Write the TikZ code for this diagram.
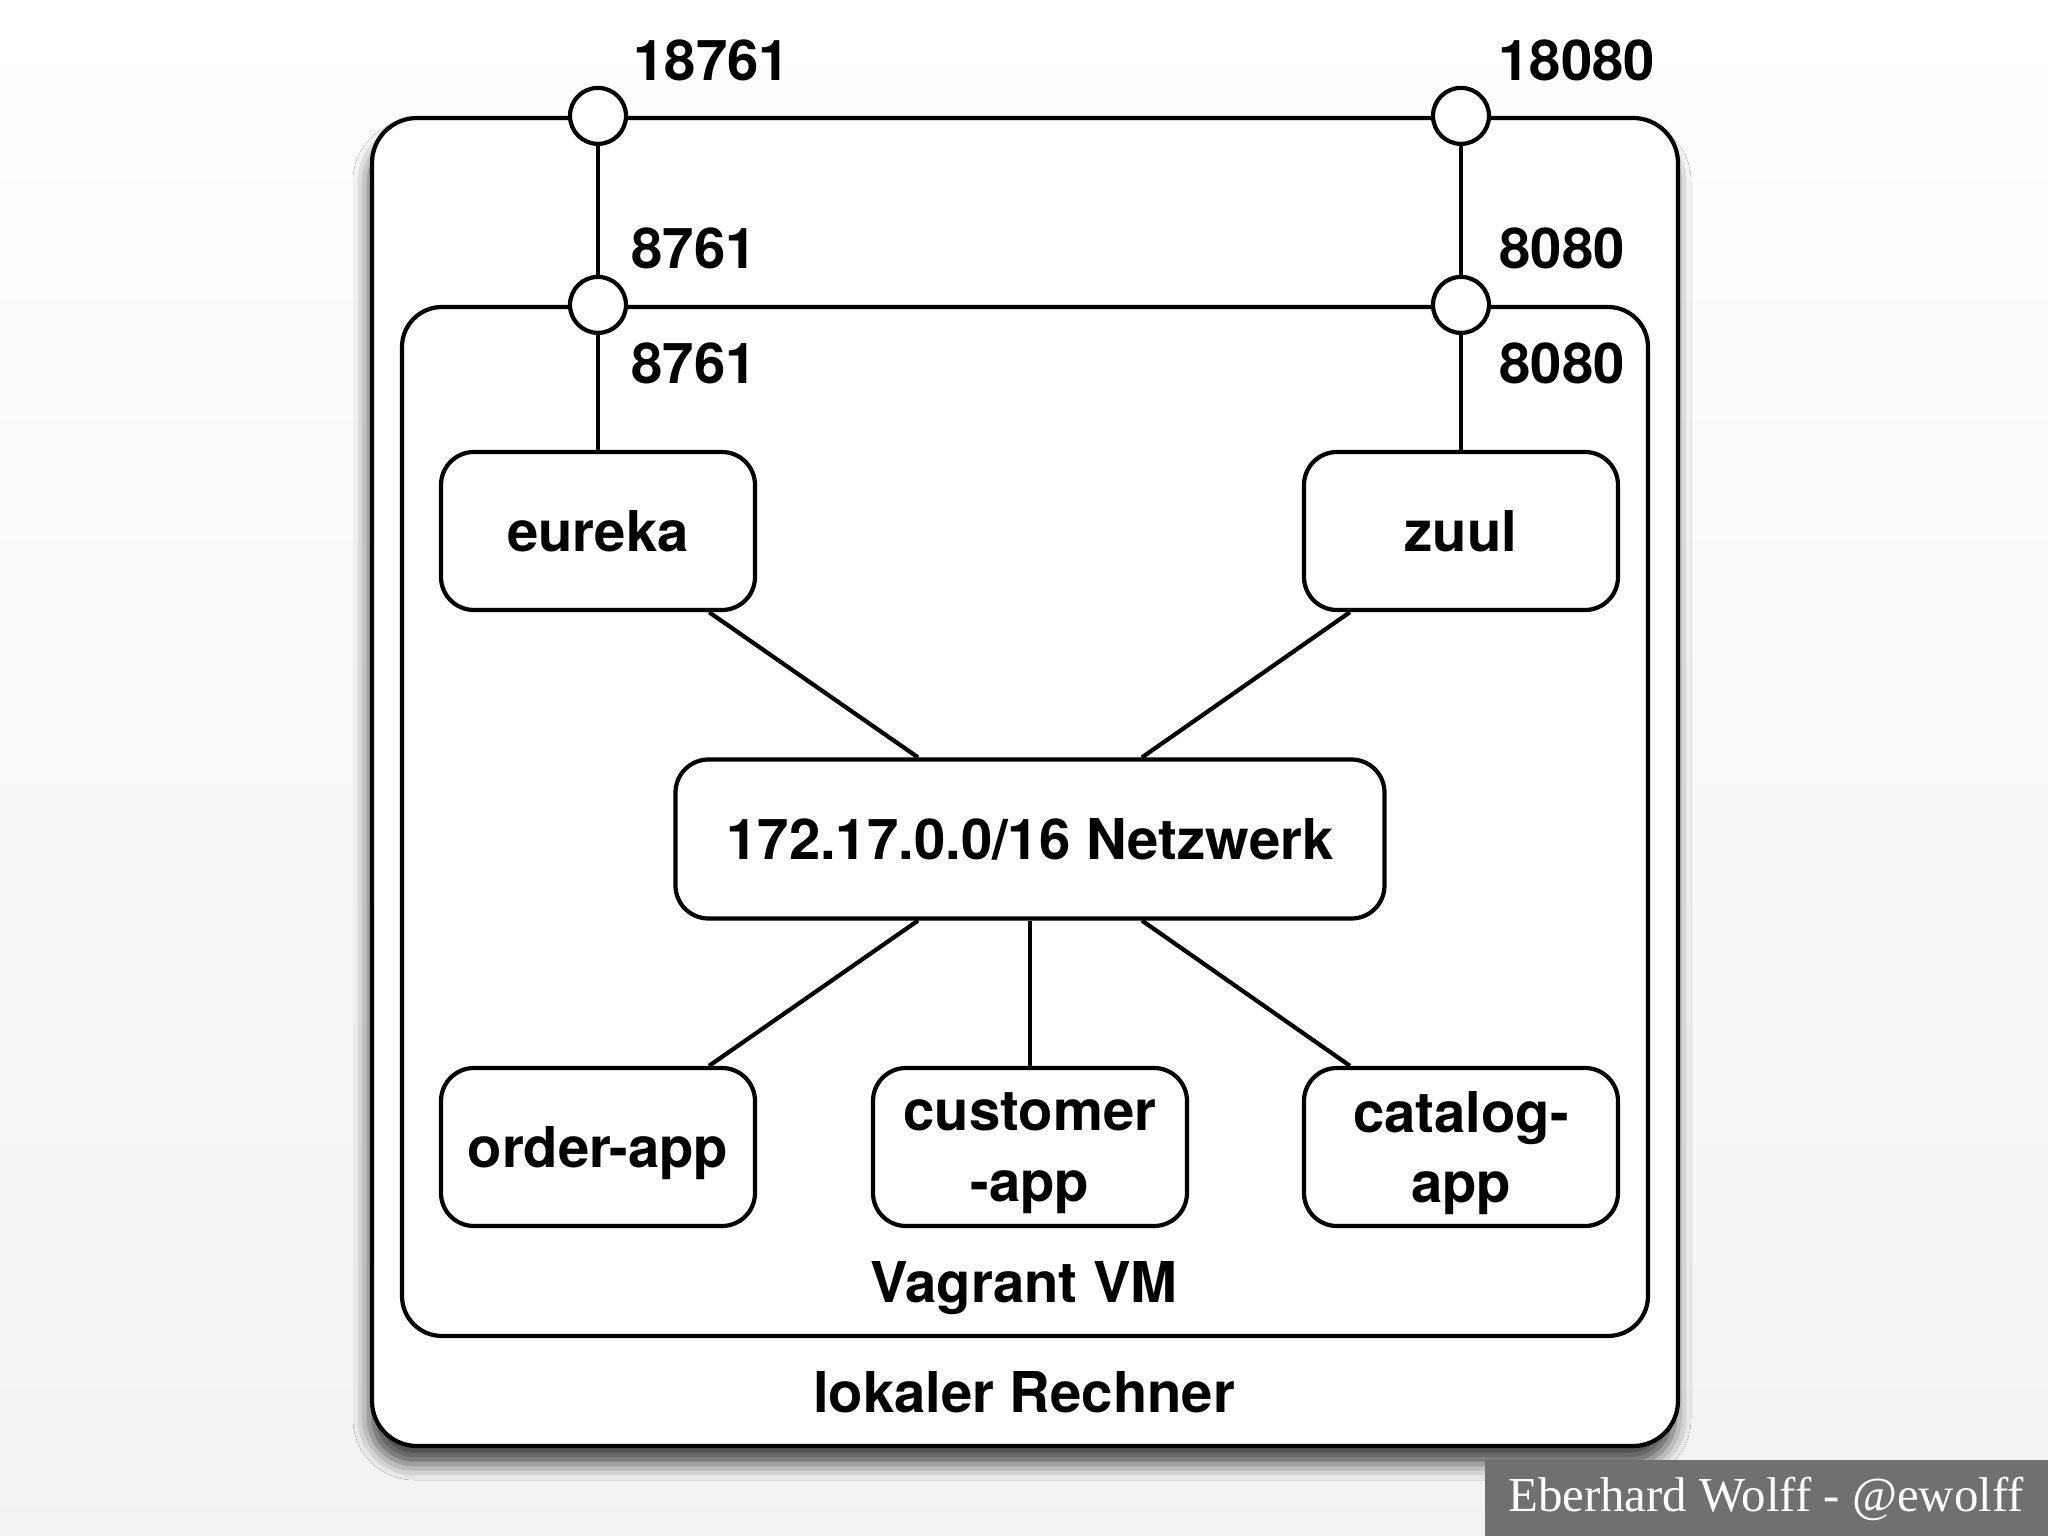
\documentclass[tikz,border=0pt]{standalone}
\usepackage{fontspec}
\setmainfont{TeX Gyre Heros}
\newfontfamily\footerFont{Liberation Serif}
\usetikzlibrary{positioning,calc,shadows.blur}
\definecolor{footerGray}{RGB}{112,112,112}

\begin{document}
\begin{tikzpicture}[
    frame/.style={draw, line width=1.2pt, fill=white, inner sep=0pt},
    box/.style={draw, line width=1.2pt, rounded corners=0.33cm, fill=white,
        minimum width=3.14cm, minimum height=1.58cm, align=center, text depth=0pt,
        font=\fontsize{16}{20}\selectfont\bfseries},
    port/.style={draw, line width=1.2pt, circle, fill=white, minimum size=0.56cm, inner sep=0pt},
    portLabel/.style={anchor=west, inner sep=0pt, font=\fontsize{16}{19}\selectfont\bfseries},
    title/.style={inner sep=0pt, font=\fontsize{16}{19}\selectfont\bfseries},
    link/.style={line width=1.2pt}
]
    \def\pageWidth{20.48}
    \def\pageHeight{15.36}

    % background
    \shade[top color=white, bottom color=gray!10] (0,0) rectangle (\pageWidth,-\pageHeight);
    \useasboundingbox (0,0) rectangle (\pageWidth,-\pageHeight);

    % machines
    \node[frame, rounded corners=0.45cm, minimum width=13.06cm, minimum height=13.28cm,
        blur shadow={shadow xshift=-0.03cm, shadow yshift=-0.18cm, shadow blur radius=0.16cm, shadow opacity=70}]
        (rechner) at (10.25,-7.82) {};
    \node[frame, rounded corners=0.4cm, minimum width=12.46cm, minimum height=10.29cm]
        (vm) at (10.25,-8.215) {};
    \node[title] (rechnerLabel) at (10.24,-13.92) {lokaler Rechner};
    \node[title] (vmLabel) at (10.24,-12.88) {Vagrant VM};

    % containers
    \node[box] (eureka) at (5.98,-5.31) {eureka};
    \node[box] (zuul) at (14.61,-5.31) {zuul};
    \node[box, minimum width=7.09cm, minimum height=1.59cm] (net) at (10.30,-8.39) {172.17.0.0/16 Netzwerk};
    \node[box] (orderApp) at (5.98,-11.47) {order-app};
    \node[box] (customerApp) at (10.30,-11.47) {customer\\-app};
    \node[box] (catalogApp) at (14.61,-11.47) {catalog-\\app};

    \draw[link] ($(eureka.south)+(1.11,0)$) -- ($(net.north)+(-1.12,0)$);
    \draw[link] ($(zuul.south)+(-1.11,0)$) -- ($(net.north)+(1.12,0)$);
    \draw[link] ($(net.south)+(-1.12,0)$) -- ($(orderApp.north)+(1.11,0)$);
    \draw[link] (net.south) -- (customerApp.north);
    \draw[link] ($(net.south)+(1.12,0)$) -- ($(catalogApp.north)+(-1.11,0)$);

    % ports
    \node[port] (hostEureka) at (eureka |- rechner.north) {};
    \node[port] (hostZuul) at (zuul |- rechner.north) {};
    \node[port] (vmEureka) at (eureka |- vm.north) {};
    \node[port] (vmZuul) at (zuul |- vm.north) {};

    \draw[link] (hostEureka) -- (vmEureka);
    \draw[link] (vmEureka) -- (eureka);
    \draw[link] (hostZuul) -- (vmZuul);
    \draw[link] (vmZuul) -- (zuul);

    \node[portLabel] (hostEurekaLabel) at (6.33,-0.60) {18761};
    \node[portLabel] (hostZuulLabel) at (14.98,-0.60) {18080};
    \node[portLabel] (vmEurekaOut) at (6.31,-2.48) {8761};
    \node[portLabel] (vmZuulOut) at (14.99,-2.48) {8080};
    \node[portLabel] (vmEurekaIn) at (6.31,-3.63) {8761};
    \node[portLabel] (vmZuulIn) at (14.99,-3.63) {8080};

    % footer
    \fill[footerGray] (14.85,-14.60) rectangle (\pageWidth,-\pageHeight);
    \node[text=white, font=\footerFont\fontsize{13.9}{16}\selectfont] (footer) at (17.66,-14.99) {Eberhard Wolff - @ewolff};
\end{tikzpicture}
\end{document}
